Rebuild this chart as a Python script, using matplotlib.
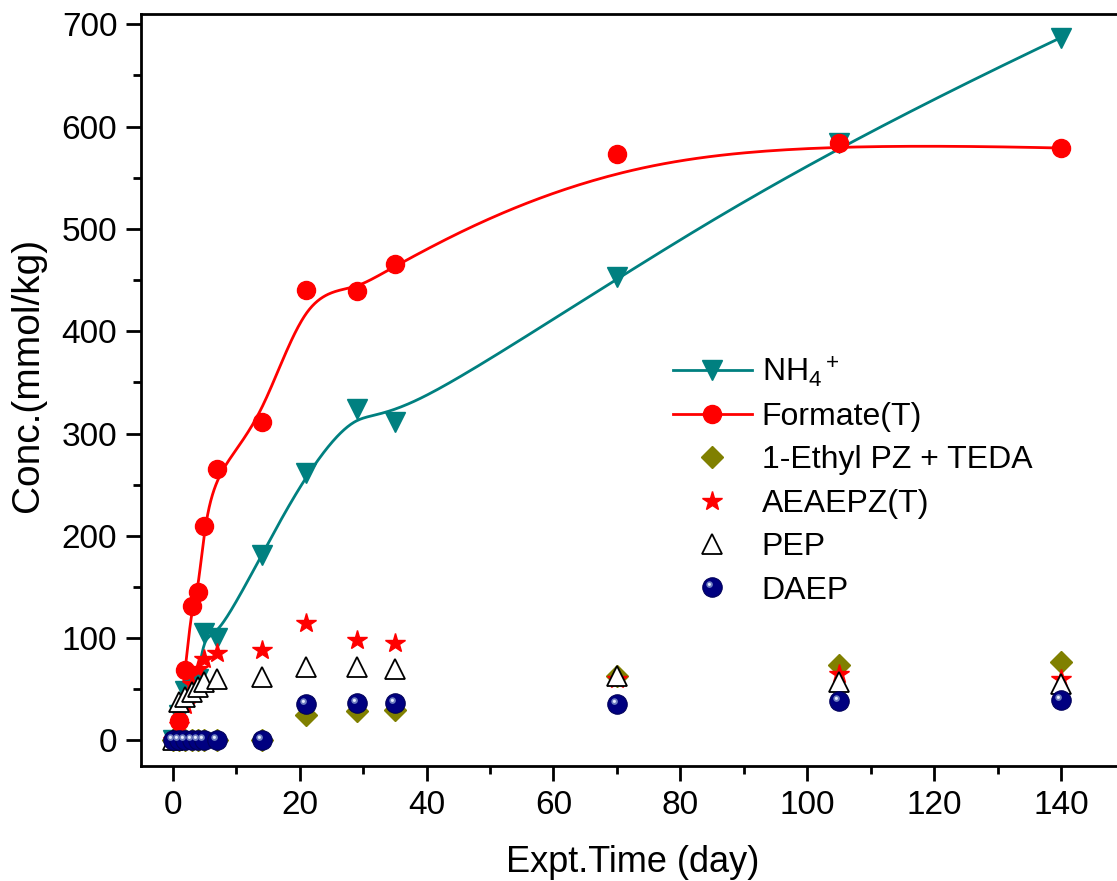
import numpy as np
import matplotlib
matplotlib.use("Agg")
import matplotlib.pyplot as plt
from matplotlib.lines import Line2D
from matplotlib.path import Path
from matplotlib.ticker import MultipleLocator

plt.rcParams['font.family'] = ['Liberation Sans', 'DejaVu Sans']
plt.rcParams['mathtext.fontset'] = 'custom'
plt.rcParams['mathtext.rm'] = 'Liberation Sans'
plt.rcParams['mathtext.it'] = 'Liberation Sans:italic'

# sampling days
days = [0, 1, 2, 3, 4, 5, 7, 14, 21, 29, 35, 70, 105, 140]

# concentrations (mmol/kg)
nh4 = [0, 25, 48, 55, 60, 105, 100, 181, 261, 324, 311, 453, 584, 687]
formate = [0, 19, 69, 131, 145, 210, 265, 311, 440, 439, 466, 573, 584, 579]
ethyl_teda = [0, 0, 0, 0, 0, 0, 0, 0, 25, 29, 30, 63, 74, 77]
aeaepz = [0, 15, 35, 55, 70, 80, 85, 88, 115, 98, 95, 60, 65, 60]
pep = [0, 38, 42, 47, 52, 57, 60, 62, 72, 72, 70, 63, 57, 55]
daep = [0, 0, 0, 0, 0, 0, 0, 0, 36, 37, 37, 36, 39, 40]

labels = [r'NH$_4{}^+$', 'Formate(T)', '1-Ethyl PZ + TEDA', 'AEAEPZ(T)', 'PEP', 'DAEP']

TEAL = '#008080'
RED = '#ff0000'
OLIVE = '#808000'
NAVY = '#000080'


def bspline(xs, ys, k=3, num=600):
    # clamped cubic B-spline using the data points as control points
    P = np.column_stack([xs, ys]).astype(float)
    n = len(P)
    t = np.concatenate([np.zeros(k), np.arange(n - k + 1), np.full(k, n - k)]).astype(float)
    u = np.linspace(0, n - k, num)
    B = np.zeros((num, len(t) - 1))
    for i in range(len(t) - 1):
        B[:, i] = (u >= t[i]) & (u < t[i + 1])
    last = np.max(np.where(t < t[-1])[0])
    B[-1, :] = 0
    B[-1, last] = 1
    for p in range(1, k + 1):
        Bn = np.zeros((num, len(t) - 1 - p))
        for i in range(len(t) - 1 - p):
            d1 = t[i + p] - t[i]
            d2 = t[i + p + 1] - t[i + 1]
            a = (u - t[i]) / d1 * B[:, i] if d1 > 0 else 0
            b = (t[i + p + 1] - u) / d2 * B[:, i + 1] if d2 > 0 else 0
            Bn[:, i] = a + b
        B = Bn
    C = B @ P
    return C[:, 0], C[:, 1]


def dot_path(cx, cy, r):
    c = Path.circle((cx, cy), r)
    verts = np.vstack([[[-1, -1], [1, 1]], c.vertices])
    codes = np.concatenate([[Path.MOVETO, Path.MOVETO], c.codes])
    return Path(verts, codes)


hl1 = dot_path(-0.3, 0.3, 0.34)
hl2 = dot_path(-0.32, 0.32, 0.16)

fig = plt.figure(figsize=(11.17, 8.81), dpi=100)
ax = fig.add_axes([0.1262, 0.1305, 0.8805, 0.8536])

# smoothed curves
sx, sy = bspline(days, nh4)
ax.plot(sx, sy, color=TEAL, lw=2, zorder=2)
sx, sy = bspline(days, formate)
ax.plot(sx, sy, color=RED, lw=2, zorder=2)

ax.plot(days, nh4, ls='none', marker='v', ms=14, color=TEAL, zorder=3)
ax.plot(days, formate, ls='none', marker='o', ms=13, color=RED, zorder=4)
ax.plot(days, ethyl_teda, ls='none', marker='D', ms=11, color=OLIVE, zorder=5)
ax.plot(days, aeaepz, ls='none', marker='*', ms=15, color=RED, zorder=6)
ax.plot(days, pep, ls='none', marker='^', ms=14, mfc='white', mec='black', mew=1.3, zorder=7)
ax.plot(days, daep, ls='none', marker='o', ms=14, color=NAVY, mec='#00005a', mew=0.8, zorder=8)
ax.plot(days, daep, ls='none', marker=hl1, ms=14, color='#6f7fc0', mew=0, zorder=9)
ax.plot(days, daep, ls='none', marker=hl2, ms=14, color='#e8eeff', mew=0, zorder=10)

ax.set_xlim(-5, 150)
ax.set_ylim(-25, 710)
ax.xaxis.set_major_locator(MultipleLocator(20))
ax.xaxis.set_minor_locator(MultipleLocator(10))
ax.yaxis.set_major_locator(MultipleLocator(100))
ax.yaxis.set_minor_locator(MultipleLocator(50))
ax.tick_params(which='both', direction='out', width=2, labelsize=24, top=False, right=False)
ax.tick_params(which='major', length=11, pad=6)
ax.tick_params(which='minor', length=6)
for s in ax.spines.values():
    s.set_linewidth(2)

ax.set_xlabel('Expt.Time (day)', fontsize=26)
ax.set_ylabel('Conc.(mmol/kg)', fontsize=28)
ax.xaxis.set_label_coords(0.5, -0.105)
ax.yaxis.set_label_coords(-0.097, 0.52)

handles = [
    Line2D([], [], color=TEAL, lw=2, marker='v', ms=14),
    Line2D([], [], color=RED, lw=2, marker='o', ms=13),
    Line2D([], [], ls='none', color=OLIVE, marker='D', ms=11),
    Line2D([], [], ls='none', color=RED, marker='*', ms=15),
    Line2D([], [], ls='none', marker='^', ms=14, mfc='white', mec='black', mew=1.3),
    (Line2D([], [], ls='none', marker='o', ms=14, color=NAVY, mec='#00005a', mew=0.8),
     Line2D([], [], ls='none', marker=hl1, ms=14, color='#6f7fc0', mew=0),
     Line2D([], [], ls='none', marker=hl2, ms=14, color='#e8eeff', mew=0)),
]
ax.legend(handles, labels, loc='upper left', bbox_to_anchor=(0.6025, 0.598),
          bbox_transform=fig.transFigure, frameon=False, fontsize=23,
          borderpad=0, borderaxespad=0, handlelength=2.47, handletextpad=0.31,
          labelspacing=0.42)

fig.savefig('out.png', dpi=100)
